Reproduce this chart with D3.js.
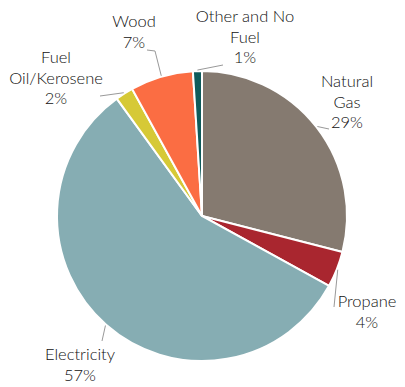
<!DOCTYPE html>
<html>
<head>
<meta charset="utf-8">
<script src="https://cdn.jsdelivr.net/npm/d3@7"></script>
<style>
body{margin:0;background:#fff;}
text{font-family:Lato,"Open Sans",sans-serif;font-size:16.5px;font-weight:300;fill:#111;}
</style>
</head>
<body>
<div id="chart"></div>
<script>
const width = 405;
const height = 387;

// data
const categories = ["Natural Gas","Propane","Electricity","Fuel Oil/Kerosene","Wood","Other and No Fuel"];
const values = [29,4,57,2,7,1];
const labelLines = [["Natural","Gas"],["Propane"],["Electricity"],["Fuel","Oil/Kerosene"],["Wood"],["Other and No","Fuel"]];
const colors = ["#857a70","#a9262f","#86adb3","#d6c936","#fb6d43","#0f5b5b"];

// label layout: x center, baseline of first line, leader points after arc start
const labelPos = [
  {x:347,y:87, leader:[[329,129]]},
  {x:367,y:307,leader:[[334,307]]},
  {x:80, y:360,leader:[[102,341]]},
  {x:56, y:63, leader:[[100,96]]},
  {x:134,y:27, leader:[[155,51],[147,50]]},
  {x:245,y:22, leader:[[223,65]]}
];

const cx = 202, cy = 216, r = 145;

const pieData = categories.map((c,i)=>({name:c,value:values[i],i:i}));

const pie = d3.pie()
.value(d=>d.value)
.sort(null);

const arc = d3.arc()
.innerRadius(0)
.outerRadius(r);

const svg = d3.select("#chart")
.append("svg")
.attr("width",width)
.attr("height",height);

const g = svg.append("g")
.attr("transform",`translate(${cx},${cy})`);

const arcs = pie(pieData);

// SLICES
g.selectAll("path.slice")
.data(arcs)
.enter()
.append("path")
.attr("class","slice")
.attr("d",arc)
.attr("fill",d=>colors[d.data.i])
.attr("stroke","#fff")
.attr("stroke-width",2);

// LEADER LINES
svg.selectAll("polyline")
.data(arcs)
.enter()
.append("polyline")
.attr("fill","none")
.attr("stroke","#999")
.attr("stroke-width",1)
.attr("points",d=>{
  const a = (d.startAngle+d.endAngle)/2;
  const start = [cx+Math.sin(a)*(r+1), cy-Math.cos(a)*(r+1)];
  return [start].concat(labelPos[d.data.i].leader).map(p=>p.join(",")).join(" ");
});

// LABELS
const labels = svg.selectAll("text.label")
.data(arcs)
.enter()
.append("text")
.attr("class","label")
.attr("text-anchor","middle")
.attr("x",d=>labelPos[d.data.i].x)
.attr("y",d=>labelPos[d.data.i].y);

labels.each(function(d){
  const t = d3.select(this);
  const lines = labelLines[d.data.i].concat([d.data.value+"%"]);
  lines.forEach((l,k)=>{
    t.append("tspan")
    .attr("x",labelPos[d.data.i].x)
    .attr("dy",k===0?0:20.5)
    .text(l);
  });
});
</script>
</body>
</html>
